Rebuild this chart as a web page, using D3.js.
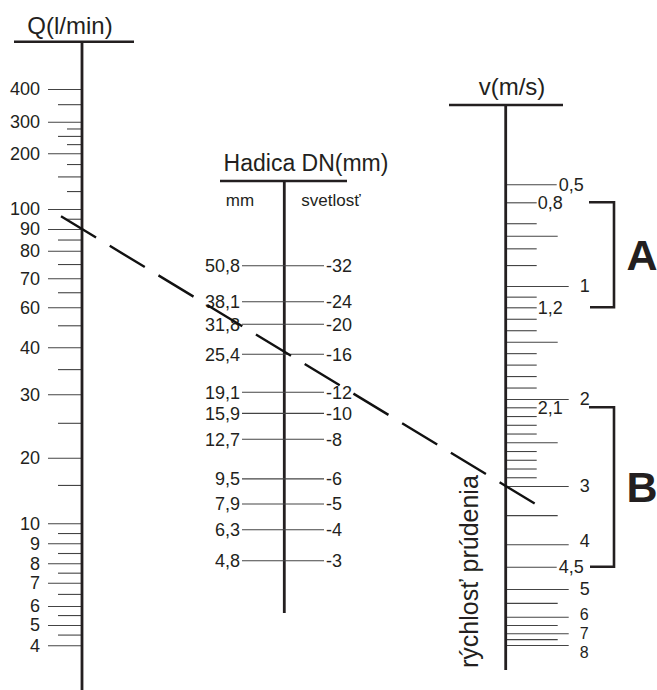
<!DOCTYPE html>
<html>
<head>
<meta charset="utf-8">
<script src="https://cdn.jsdelivr.net/npm/d3@7"></script>
<style>
  body { margin: 0; background: #fff; }
  svg { display: block; font-family: "Liberation Sans", Arial, sans-serif; }
</style>
</head>
<body>
<div id="chart"></div>
<script>
// Q scale, l/min
const qLabels = [400, 300, 200, 100, 90, 80, 70, 60, 40, 30, 20, 10, 9, 8, 7, 6, 5, 4];
const qMinor = [350, 250, 150, 85, 75, 65, 50, 35, 25, 15, 9.5, 8.5, 7.5, 6.5, 5.5, 4.5];
const qShortMinor = [275, 225, 175, 125, 95];

// hose DN: mm and clear width
const dnMm = [50.8, 38.1, 31.8, 25.4, 19.1, 15.9, 12.7, 9.5, 7.9, 6.3, 4.8];
const dnClear = [32, 24, 20, 16, 12, 10, 8, 6, 5, 4, 3];

// flow velocity, m/s
const vMain = [1, 2, 3, 4, 5, 6, 7, 8];
const vSideLong = [0.5, 4.5];
const vSideShort = [0.8, 1.2, 2.1];
const vMinorLong = [0.88, 1.5, 2.5, 3.5, 5.5, 6.5, 7.5];
const vMinorShort = [0.85, 0.91, 0.95, 1.1, 1.3, 1.4, 1.6, 1.7, 1.8, 1.9, 2.2, 2.3, 2.4, 2.6, 2.7, 2.8, 2.9];

// recommended ranges
const ranges = [{ name: 'A', from: 0.8, to: 1.2 }, { name: 'B', from: 2.1, to: 4.5 }];
// example reading shown by the dashed line
const reading = { q: 90, dn: 25.4, v: 3 };

const W = 657, H = 690;
const svg = d3.select('#chart').append('svg')
    .attr('width', W)
    .attr('height', H);

const ink = '#231f20';
const tickCol = '#444';
const comma = d => String(d).replace('.', ',');

// the scales of the nomogram are hand drawn, so they are calibrated piecewise
const qX = 82, dnX = 284.3, vX = 505.7;
const qScale = d3.scaleLog()
    .domain(qLabels)
    .range([89, 121.7, 153.3, 209, 229, 250.7, 278.3, 307.3, 347.3, 394.3, 457.7, 523.3, 543.3, 563.3, 582.7, 606, 625, 645.3]);
const dnScale = d3.scaleLog()
    .domain([50.8, 31.8, 19.1, 12.7, 7.9, 4.8])
    .range([265.7, 324.3, 392.3, 439.3, 504, 560.7]);
const vScale = d3.scaleLinear()
    .domain([0.5, 0.8, 1, 1.2, 2, 2.1, 3, 4, 4.5, 5, 6, 7, 8])
    .range([184.3, 202.3, 286, 307.3, 399, 407.3, 486, 544.3, 566.7, 589, 616.7, 633.3, 645]);

function styleAxis(g, size) {
    g.select('.domain').remove();
    g.selectAll('.tick line').attr('stroke', tickCol).attr('stroke-width', 1.1);
    g.selectAll('.tick text')
        .attr('fill', ink)
        .style('font-size', size + 'px')
        .style('font-family', '"Liberation Sans", Arial, sans-serif');
}

// ---- Q axis ----
svg.append('g')
    .attr('transform', `translate(${qX},0)`)
    .call(d3.axisLeft(qScale).tickValues(qLabels).tickSize(34).tickPadding(8).tickFormat(d => d))
    .call(g => styleAxis(g, 18));
svg.append('g')
    .attr('transform', `translate(${qX},0)`)
    .call(d3.axisLeft(qScale).tickValues(qMinor).tickSize(24).tickFormat(''))
    .call(g => styleAxis(g, 18));
svg.append('g')
    .attr('transform', `translate(${qX},0)`)
    .call(d3.axisLeft(qScale).tickValues(qShortMinor).tickSize(15).tickFormat(''))
    .call(g => styleAxis(g, 18));

svg.append('line')
    .attr('x1', qX).attr('x2', qX).attr('y1', 42).attr('y2', H)
    .attr('stroke', ink).attr('stroke-width', 2.8);
svg.append('line')
    .attr('x1', 14).attr('x2', 134).attr('y1', 41.7).attr('y2', 41.7)
    .attr('stroke', ink).attr('stroke-width', 2.6);
svg.append('text')
    .attr('x', 70).attr('y', 34)
    .attr('text-anchor', 'middle')
    .attr('fill', ink)
    .style('font-size', '24px')
    .text('Q(l/min)');

// ---- hose DN axis ----
svg.append('line')
    .attr('x1', dnX).attr('x2', dnX).attr('y1', 181).attr('y2', 613)
    .attr('stroke', ink).attr('stroke-width', 2.8);
svg.append('line')
    .attr('x1', 220).attr('x2', 347).attr('y1', 181).attr('y2', 181)
    .attr('stroke', ink).attr('stroke-width', 2.6);
svg.append('text')
    .attr('x', 306).attr('y', 171)
    .attr('text-anchor', 'middle')
    .attr('fill', ink)
    .style('font-size', '23px')
    .text('Hadica DN(mm)');
svg.append('text')
    .attr('x', 240).attr('y', 206)
    .attr('text-anchor', 'middle')
    .attr('fill', ink)
    .style('font-size', '17px')
    .text('mm');
svg.append('text')
    .attr('x', 331).attr('y', 206)
    .attr('text-anchor', 'middle')
    .attr('fill', ink)
    .style('font-size', '17px')
    .text('svetlosť');

const dnRows = svg.append('g').selectAll('g')
    .data(dnMm.map((mm, i) => ({ mm, clear: dnClear[i] })))
    .join('g')
    .attr('transform', d => `translate(0,${dnScale(d.mm)})`);
dnRows.append('line')
    .attr('x1', 242).attr('x2', 324)
    .attr('stroke', tickCol).attr('stroke-width', 1.1);
dnRows.append('text')
    .attr('x', 240).attr('dy', '0.35em')
    .attr('text-anchor', 'end')
    .attr('fill', ink)
    .style('font-size', '18px')
    .text(d => comma(d.mm));
dnRows.append('text')
    .attr('x', 326).attr('dy', '0.35em')
    .attr('fill', ink)
    .style('font-size', '18px')
    .text(d => '-' + d.clear);

// ---- velocity axis ----
// labels at the crowded bottom end are nudged apart, as in the original
const vShift = { 4: -4, 6: -2, 8: 7 };
svg.append('g')
    .attr('transform', `translate(${vX},0)`)
    .call(d3.axisRight(vScale).tickValues(vMain).tickSize(63).tickPadding(11).tickFormat(d => d))
    .call(g => styleAxis(g, 18))
    .call(g => g.selectAll('.tick text')
        .attr('y', d => vShift[d] || 0)
        .style('font-size', d => d >= 6 ? '16px' : '18px'));
svg.append('g')
    .attr('transform', `translate(${vX},0)`)
    .call(d3.axisRight(vScale).tickValues(vSideLong).tickSize(51).tickPadding(2).tickFormat(comma))
    .call(g => styleAxis(g, 18));
svg.append('g')
    .attr('transform', `translate(${vX},0)`)
    .call(d3.axisRight(vScale).tickValues(vSideShort).tickSize(31).tickPadding(1).tickFormat(comma))
    .call(g => styleAxis(g, 18));
svg.append('g')
    .attr('transform', `translate(${vX},0)`)
    .call(d3.axisRight(vScale).tickValues(vMinorLong).tickSize(52).tickFormat(''))
    .call(g => styleAxis(g, 18));
svg.append('g')
    .attr('transform', `translate(${vX},0)`)
    .call(d3.axisRight(vScale).tickValues(vMinorShort).tickSize(31).tickFormat(''))
    .call(g => styleAxis(g, 18));

svg.append('line')
    .attr('x1', vX).attr('x2', vX).attr('y1', 105).attr('y2', 670)
    .attr('stroke', ink).attr('stroke-width', 2.8);
svg.append('line')
    .attr('x1', 449).attr('x2', 563).attr('y1', 105).attr('y2', 105)
    .attr('stroke', ink).attr('stroke-width', 2.6);
svg.append('text')
    .attr('x', 512).attr('y', 95)
    .attr('text-anchor', 'middle')
    .attr('fill', ink)
    .style('font-size', '24px')
    .text('v(m/s)');
svg.append('text')
    .attr('transform', 'translate(478,668) rotate(-90)')
    .attr('fill', ink)
    .style('font-size', '25px')
    .text('rýchlosť prúdenia');

// ranges A and B
const br = svg.append('g').selectAll('g')
    .data(ranges)
    .join('g');
br.append('path')
    .attr('d', d => `M589,${vScale(d.from)}H614V${vScale(d.to)}H590`)
    .attr('fill', 'none')
    .attr('stroke', ink)
    .attr('stroke-width', 2.6);
br.append('text')
    .attr('x', 642)
    .attr('y', d => (vScale(d.from) + vScale(d.to)) / 2)
    .attr('dy', '0.36em')
    .attr('text-anchor', 'middle')
    .attr('fill', ink)
    .style('font-size', '43px')
    .style('font-weight', 'bold')
    .text(d => d.name);

// ---- example reading (dashed line) ----
const p1 = [qX, qScale(reading.q)];
const p2 = [vX, vScale(reading.v)];
const slope = (p2[1] - p1[1]) / (p2[0] - p1[0]);
const xs = [qX - 21, vX + 34];
svg.append('path')
    .attr('d', d3.line()(xs.map(x => [x, p1[1] + (x - p1[0]) * slope])))
    .attr('fill', 'none')
    .attr('stroke', '#111')
    .attr('stroke-width', 2.4)
    .attr('stroke-dasharray', '41,16');
</script>
</body>
</html>
